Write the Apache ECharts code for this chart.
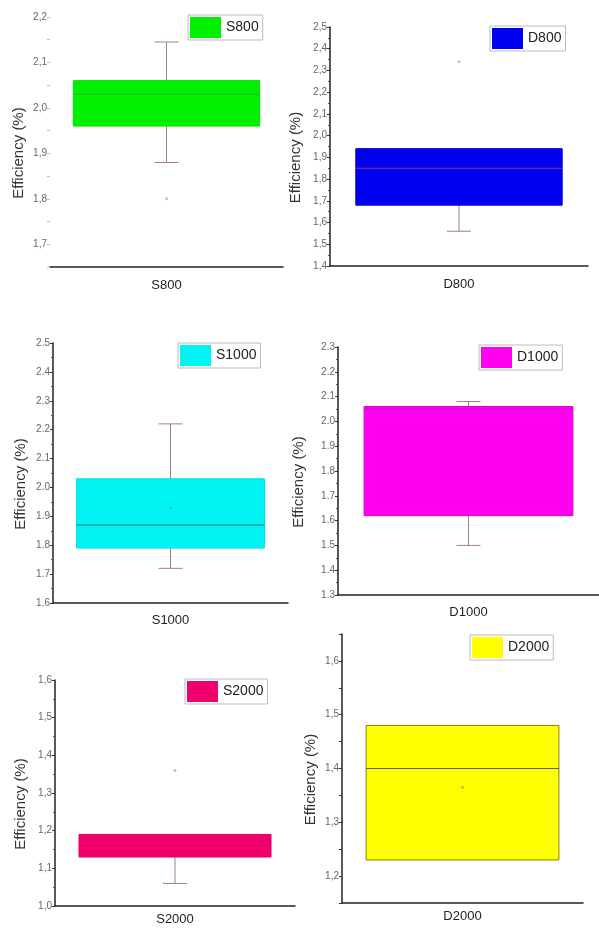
<!DOCTYPE html>
<html lang="en">
<head>
<meta charset="UTF-8">
<title>Efficiency box plots</title>
<script src="https://cdn.jsdelivr.net/npm/echarts@6/dist/echarts.min.js"></script>
<style>
    html, body { margin: 0; padding: 0; background: #fff; }
    #main { width: 599px; height: 928px; }
</style>
</head>
<body>
<div id="main"></div>
<script>
// box statistics for each sample
var samples = ['S800', 'D800', 'S1000', 'D1000', 'S2000', 'D2000'];
var whiskerLow = [1.88, 1.56, 1.72, 1.50, 1.06, 1.23];
var q1 = [1.96, 1.68, 1.79, 1.62, 1.13, 1.23];
var medians = [2.03, 1.85, 1.87, 2.05, 1.17, 1.40];
var q3 = [2.06, 1.94, 2.03, 2.06, 1.19, 1.48];
var whiskerHigh = [2.145, 1.94, 2.22, 2.08, 1.19, 1.48];
// outliers / mean markers
var extraPoints = [[1.80], [2.34], [1.93], [], [1.36], [1.365]];

// y axis ranges and tick steps
var yMin = [1.65, 1.4, 1.6, 1.3, 1.0, 1.15];
var yMax = [2.2, 2.5, 2.5, 2.3, 1.6, 1.65];
var yStep = [0.05, 0.1, 0.1, 0.1, 0.1, 0.05];
var decimalSep = [',', ',', '.', '.', ',', ','];

// layout & styles
var grids = [
    { left: 50, top: 17, width: 233, height: 250 },
    { left: 330, top: 27, width: 258, height: 239 },
    { left: 53, top: 343, width: 235, height: 260 },
    { left: 338, top: 347, width: 261, height: 248 },
    { left: 55, top: 680, width: 240, height: 226 },
    { left: 342, top: 634, width: 241, height: 269 }
];
var nameGaps = [24, 27, 25, 32, 27, 24];
var labelMargins = [12, 12, 11, 11, 7, 7];
var legendPos = [[188, 15], [490, 26], [178, 343], [479, 345], [185, 679], [470, 635]];
var fills = ['#00f000', '#0000f0', '#00f4f4', '#ff00f0', '#f0006c', '#ffff00'];
var borders = ['#00e000', '#0000d8', '#00e4e4', '#d800d0', '#e00064', '#8a8000'];
var medianColors = ['#30b030', '#a03070', '#106868', '#d800d0', '#d80064', '#6a6000'];
var whiskerColor = '#a08080';
var fontFamily = '"Liberation Sans", Arial, sans-serif';

function makeRender(i) {
    return function (params, api) {
        var x = api.value(0);
        var pLow = api.coord([x, api.value(1)]);
        var pQ1 = api.coord([x, api.value(2)]);
        var pMed = api.coord([x, api.value(3)]);
        var pQ3 = api.coord([x, api.value(4)]);
        var pHigh = api.coord([x, api.value(5)]);
        var half = api.size([1, 0])[0] * 0.4;
        var cx = pQ1[0];
        var cap = 12;
        var lineStyle = { stroke: whiskerColor, lineWidth: 1 };
        var children = [];
        if (pLow[1] - pQ1[1] > 0.5) {
            children.push({ type: 'line', shape: { x1: cx, y1: pQ1[1], x2: cx, y2: pLow[1] }, style: lineStyle });
            children.push({ type: 'line', shape: { x1: cx - cap, y1: pLow[1], x2: cx + cap, y2: pLow[1] }, style: lineStyle });
        }
        if (pQ3[1] - pHigh[1] > 0.5) {
            children.push({ type: 'line', shape: { x1: cx, y1: pQ3[1], x2: cx, y2: pHigh[1] }, style: lineStyle });
            children.push({ type: 'line', shape: { x1: cx - cap, y1: pHigh[1], x2: cx + cap, y2: pHigh[1] }, style: lineStyle });
        }
        children.push({
            type: 'rect',
            shape: { x: cx - half, y: pQ3[1], width: half * 2, height: pQ1[1] - pQ3[1] },
            style: { fill: fills[i], stroke: borders[i], lineWidth: 1 }
        });
        children.push({
            type: 'line',
            shape: { x1: cx - half, y1: pMed[1], x2: cx + half, y2: pMed[1] },
            style: { stroke: medianColors[i], lineWidth: 1.2 }
        });
        return { type: 'group', children: children };
    };
}

function labelFormatter(i) {
    return function (v) {
        var r = Math.round(v * 10);
        if (Math.abs(v * 10 - r) > 1e-6) return '';
        return (r / 10).toFixed(1).replace('.', decimalSep[i]);
    };
}

var option = {
    backgroundColor: '#fff',
    animation: false,
    grid: [],
    xAxis: [],
    yAxis: [],
    legend: [],
    series: []
};

for (var i = 0; i < samples.length; i++) {
    option.grid.push(grids[i]);
    option.xAxis.push({
        type: 'category',
        gridIndex: i,
        data: [samples[i]],
        axisLine: { lineStyle: { color: '#222', width: 1.5 } },
        axisTick: { alignWithLabel: true, length: 4, lineStyle: { color: '#222' } },
        axisLabel: { fontSize: 13, color: '#222', margin: labelMargins[i], fontFamily: fontFamily },
        splitLine: { show: false }
    });
    option.yAxis.push({
        type: 'value',
        gridIndex: i,
        min: yMin[i],
        max: yMax[i],
        interval: yStep[i],
        name: 'Efficiency (%)',
        nameLocation: 'middle',
        nameGap: nameGaps[i],
        nameTextStyle: { fontSize: 15, color: '#333', fontFamily: fontFamily, padding: [0, 22, 0, 0] },
        axisLine: { show: i !== 0, lineStyle: { color: '#222', width: 1.5 } },
        axisTick: { show: true, length: 3, lineStyle: { color: i === 0 ? '#bbb' : '#333' } },
        minorTick: { show: yStep[i] === 0.1, splitNumber: 2, length: 2, lineStyle: { color: '#555' } },
        axisLabel: { fontSize: 10, color: '#666', margin: 3, fontFamily: fontFamily, formatter: labelFormatter(i) },
        splitLine: { show: false }
    });
    option.legend.push({
        data: [samples[i]],
        left: legendPos[i][0],
        top: legendPos[i][1],
        icon: 'rect',
        itemWidth: 31,
        itemHeight: 21,
        padding: [2, 4, 2, 2],
        borderColor: '#bbb',
        borderWidth: 1,
        selectedMode: false,
        textStyle: { fontSize: 14, color: '#222', fontFamily: fontFamily }
    });
    option.series.push({
        name: samples[i],
        type: 'custom',
        xAxisIndex: i,
        yAxisIndex: i,
        itemStyle: { color: fills[i] },
        encode: { x: 0, y: [1, 2, 3, 4, 5] },
        renderItem: makeRender(i),
        data: [[0, whiskerLow[i], q1[i], medians[i], q3[i], whiskerHigh[i]]]
    });
    option.series.push({
        type: 'scatter',
        xAxisIndex: i,
        yAxisIndex: i,
        symbolSize: 3,
        itemStyle: { color: 'rgba(150,110,110,0.6)' },
        data: extraPoints[i].map(function (v) { return [0, v]; })
    });
}

var myChart = echarts.init(document.getElementById('main'));
myChart.setOption(option);
window.addEventListener('resize', function () {
    myChart.resize();
});
</script>
</body>
</html>
